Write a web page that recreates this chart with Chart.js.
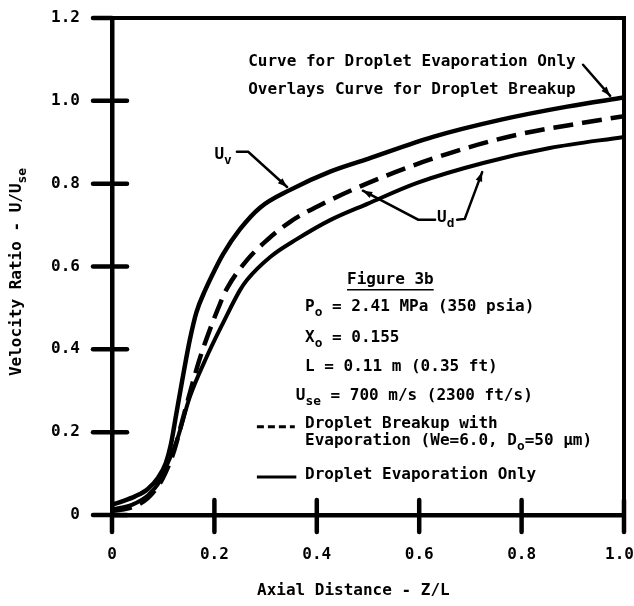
<!DOCTYPE html>
<html>
<head>
<meta charset="utf-8">
<script src="https://cdn.jsdelivr.net/npm/chart.js@4.4.1/dist/chart.umd.min.js"></script>
<style>
  html, body { margin: 0; padding: 0; background: #fff; }
  #wrap { width: 634px; height: 606px; }
</style>
</head>
<body>
<div id="wrap"><canvas id="fig" width="634" height="606"></canvas></div>
<script>
// axis ticks
const xTicks = [0, 0.2, 0.4, 0.6, 0.8, 1.0];
const yTicks = [0, 0.2, 0.4, 0.6, 0.8, 1.0, 1.2];

// U_v - vapour velocity (same curve for both cases)
const xGas = [0, 0.02, 0.045, 0.07, 0.09, 0.105, 0.115, 0.125, 0.135, 0.152, 0.165, 0.182, 0.2, 0.217, 0.25, 0.289, 0.348, 0.426, 0.5, 0.627, 0.758, 0.889, 1.0];
const uGas = [0.025, 0.033, 0.045, 0.063, 0.09, 0.125, 0.17, 0.24, 0.31, 0.423, 0.49, 0.543, 0.59, 0.63, 0.69, 0.742, 0.785, 0.829, 0.86, 0.913, 0.954, 0.986, 1.008];

// U_d - droplet breakup with evaporation (dashed)
const xBreak = [0, 0.02, 0.04, 0.07, 0.094, 0.107, 0.12, 0.14, 0.16, 0.172, 0.191, 0.211, 0.225, 0.264, 0.303, 0.348, 0.406, 0.529, 0.66, 0.791, 0.92, 1.0];
const uBreak = [0.01, 0.013, 0.019, 0.041, 0.077, 0.109, 0.15, 0.24, 0.33, 0.38, 0.447, 0.51, 0.548, 0.616, 0.664, 0.708, 0.748, 0.816, 0.874, 0.918, 0.947, 0.963];

// U_d - droplet evaporation only (lower solid)
const xEvap = [0, 0.02, 0.04, 0.07, 0.094, 0.107, 0.127, 0.152, 0.185, 0.217, 0.25, 0.264, 0.309, 0.361, 0.426, 0.5, 0.596, 0.725, 0.855, 1.0];
const uEvap = [0.014, 0.018, 0.025, 0.047, 0.083, 0.12, 0.181, 0.285, 0.382, 0.464, 0.543, 0.568, 0.623, 0.666, 0.712, 0.752, 0.802, 0.85, 0.886, 0.913];

const FONT = '"DejaVu Sans Mono", monospace';
const INK = '#000';

const pairs = (xs, ys) => xs.map((x, i) => ({ x: x, y: ys[i] }));

// draws text made of [string, isSub] parts, returns width
function richText(ctx, parts, x, y, size, measureOnly) {
    let cx = x;
    parts.forEach(([s, sub]) => {
        const fs = sub ? size * 0.8 : size;
        ctx.font = 'bold ' + fs + 'px ' + FONT;
        if (!measureOnly) ctx.fillText(s, cx, sub ? y + size * 0.35 : y);
        cx += ctx.measureText(s).width;
    });
    return cx - x;
}

function arrowLine(ctx, pts) {
    ctx.beginPath();
    ctx.moveTo(pts[0][0], pts[0][1]);
    for (let i = 1; i < pts.length; i++) ctx.lineTo(pts[i][0], pts[i][1]);
    ctx.stroke();
    const [x1, y1] = pts[pts.length - 2];
    const [x2, y2] = pts[pts.length - 1];
    const a = Math.atan2(y2 - y1, x2 - x1);
    ctx.beginPath();
    ctx.moveTo(x2, y2);
    ctx.lineTo(x2 - 10 * Math.cos(a - 0.35), y2 - 10 * Math.sin(a - 0.35));
    ctx.lineTo(x2 - 10 * Math.cos(a + 0.35), y2 - 10 * Math.sin(a + 0.35));
    ctx.closePath();
    ctx.fill();
}

const figureNotes = {
    id: 'figureNotes',
    afterDraw(chart) {
        const ctx = chart.ctx;
        const xs = chart.scales.x, ys = chart.scales.y;
        const px = v => xs.getPixelForValue(v);
        const py = v => ys.getPixelForValue(v);
        const area = chart.chartArea;

        ctx.save();
        ctx.strokeStyle = INK;
        ctx.fillStyle = INK;
        ctx.lineCap = 'round';

        // frame (top + right)
        ctx.lineWidth = 4;
        ctx.beginPath();
        ctx.moveTo(area.left, area.top);
        ctx.lineTo(area.right, area.top);
        ctx.lineTo(area.right, area.bottom);
        ctx.stroke();

        // ticks crossing the axes
        ctx.lineWidth = 4.5;
        yTicks.forEach(v => {
            ctx.beginPath();
            ctx.moveTo(area.left - 19, py(v));
            ctx.lineTo(area.left + (v === 1.2 ? 0 : 15), py(v));
            ctx.stroke();
        });
        xTicks.forEach(v => {
            ctx.beginPath();
            ctx.moveTo(px(v), area.bottom + 17);
            ctx.lineTo(px(v), area.bottom - (v === 0 ? 0 : 15));
            ctx.stroke();
        });

        ctx.textBaseline = 'middle';
        ctx.textAlign = 'left';

        // x tick labels (last one pulled in so it stays on the page)
        ctx.font = 'bold 16px ' + FONT;
        xTicks.forEach(v => {
            const s = v === 0 ? '0' : v.toFixed(1);
            const w = ctx.measureText(s).width;
            const cx = Math.min(px(v), chart.width - w / 2);
            ctx.fillText(s, cx - w / 2, area.bottom + 40);
        });

        // axis titles
        ctx.fillText('Axial Distance - Z/L', 257, 591);

        ctx.save();
        ctx.translate(20, 272);
        ctx.rotate(-Math.PI / 2);
        const yParts = [['Velocity Ratio - U/U', false], ['se', true]];
        const yw = richText(ctx, yParts, 0, 0, 16, true);
        richText(ctx, yParts, -yw / 2, -3, 16);
        ctx.restore();

        // overlay note at upper right
        ctx.font = 'bold 16px ' + FONT;
        ctx.fillText('Curve for Droplet Evaporation Only', px(0.266), py(1.094));
        ctx.fillText('Overlays Curve for Droplet Breakup', px(0.266), py(1.027));
        ctx.lineWidth = 2.5;
        arrowLine(ctx, [[px(0.92), py(1.087)], [px(0.973), py(1.012)]]);

        // U_v label
        richText(ctx, [['U', false], ['v', true]], px(0.2), py(0.87), 16);
        arrowLine(ctx, [[px(0.244), py(0.877)], [px(0.266), py(0.877)], [px(0.342), py(0.792)]]);

        // U_d label with two leaders
        richText(ctx, [['U', false], ['d', true]], px(0.635), py(0.718), 16);
        arrowLine(ctx, [[px(0.631), py(0.713)], [px(0.598), py(0.713)], [px(0.49), py(0.783)]]);
        arrowLine(ctx, [[px(0.674), py(0.713)], [px(0.689), py(0.715)], [px(0.723), py(0.828)]]);

        // figure block
        ctx.font = 'bold 16px ' + FONT;
        ctx.fillText('Figure 3b', px(0.459), py(0.568));
        const fw = ctx.measureText('Figure 3b').width;
        ctx.lineWidth = 1.5;
        ctx.lineCap = 'butt';
        ctx.beginPath();
        ctx.moveTo(px(0.459), py(0.568) + 10);
        ctx.lineTo(px(0.459) + fw, py(0.568) + 10);
        ctx.stroke();

        richText(ctx, [['P', false], ['o', true], [' = 2.41 MPa (350 psia)', false]], px(0.377), py(0.502), 16);
        richText(ctx, [['X', false], ['o', true], [' = 0.155', false]], px(0.377), py(0.428), 16);
        richText(ctx, [['L = 0.11 m (0.35 ft)', false]], px(0.377), py(0.357), 16);
        richText(ctx, [['U', false], ['se', true], [' = 700 m/s (2300 ft/s)', false]], px(0.359), py(0.287), 16);

        // key
        ctx.lineWidth = 3;
        ctx.setLineDash([7, 4]);
        ctx.beginPath();
        ctx.moveTo(px(0.283), py(0.213));
        ctx.lineTo(px(0.357), py(0.213));
        ctx.stroke();
        ctx.setLineDash([]);
        ctx.beginPath();
        ctx.moveTo(px(0.283), py(0.092));
        ctx.lineTo(px(0.36), py(0.092));
        ctx.stroke();

        richText(ctx, [['Droplet Breakup with', false]], px(0.377), py(0.219), 16);
        richText(ctx, [['Evaporation (We=6.0, D', false], ['o', true], ['=50 \u00b5m)', false]], px(0.377), py(0.178), 16);
        richText(ctx, [['Droplet Evaporation Only', false]], px(0.377), py(0.097), 16);

        ctx.restore();
    }
};

new Chart(document.getElementById('fig'), {
    type: 'line',
    data: {
        datasets: [
            {
                label: 'U_v',
                data: pairs(xGas, uGas),
                borderColor: INK,
                borderWidth: 4.5,
                pointRadius: 0,
                cubicInterpolationMode: 'monotone'
            },
            {
                label: 'U_d Droplet Breakup with Evaporation',
                data: pairs(xBreak, uBreak),
                borderColor: INK,
                borderWidth: 4.5,
                borderDash: [20, 9],
                pointRadius: 0,
                cubicInterpolationMode: 'monotone'
            },
            {
                label: 'U_d Droplet Evaporation Only',
                data: pairs(xEvap, uEvap),
                borderColor: INK,
                borderWidth: 4,
                pointRadius: 0,
                cubicInterpolationMode: 'monotone'
            }
        ]
    },
    options: {
        responsive: false,
        animation: false,
        layout: { padding: { top: 18, right: 10, left: 0, bottom: 0 } },
        plugins: {
            legend: { display: false },
            tooltip: { enabled: false }
        },
        scales: {
            x: {
                type: 'linear',
                min: 0,
                max: 1.0,
                afterBuildTicks: s => { s.ticks = xTicks.map(v => ({ value: v })); },
                afterFit: s => { s.height = 91; s.paddingLeft = 0; s.paddingRight = 0; },
                grid: { display: false },
                border: { display: true, color: INK, width: 4.5 },
                ticks: { display: false }
            },
            y: {
                min: 0,
                max: 1.2,
                afterBuildTicks: s => { s.ticks = yTicks.map(v => ({ value: v })); },
                afterFit: s => { s.width = 112; s.paddingTop = 0; s.paddingBottom = 0; },
                grid: { display: false },
                border: { display: true, color: INK, width: 4.5 },
                ticks: {
                    padding: 24,
                    color: INK,
                    font: { family: FONT, size: 16, weight: 'bold' },
                    callback: v => (v === 0 ? '0' : v.toFixed(1))
                }
            }
        }
    },
    plugins: [figureNotes]
});
</script>
</body>
</html>
